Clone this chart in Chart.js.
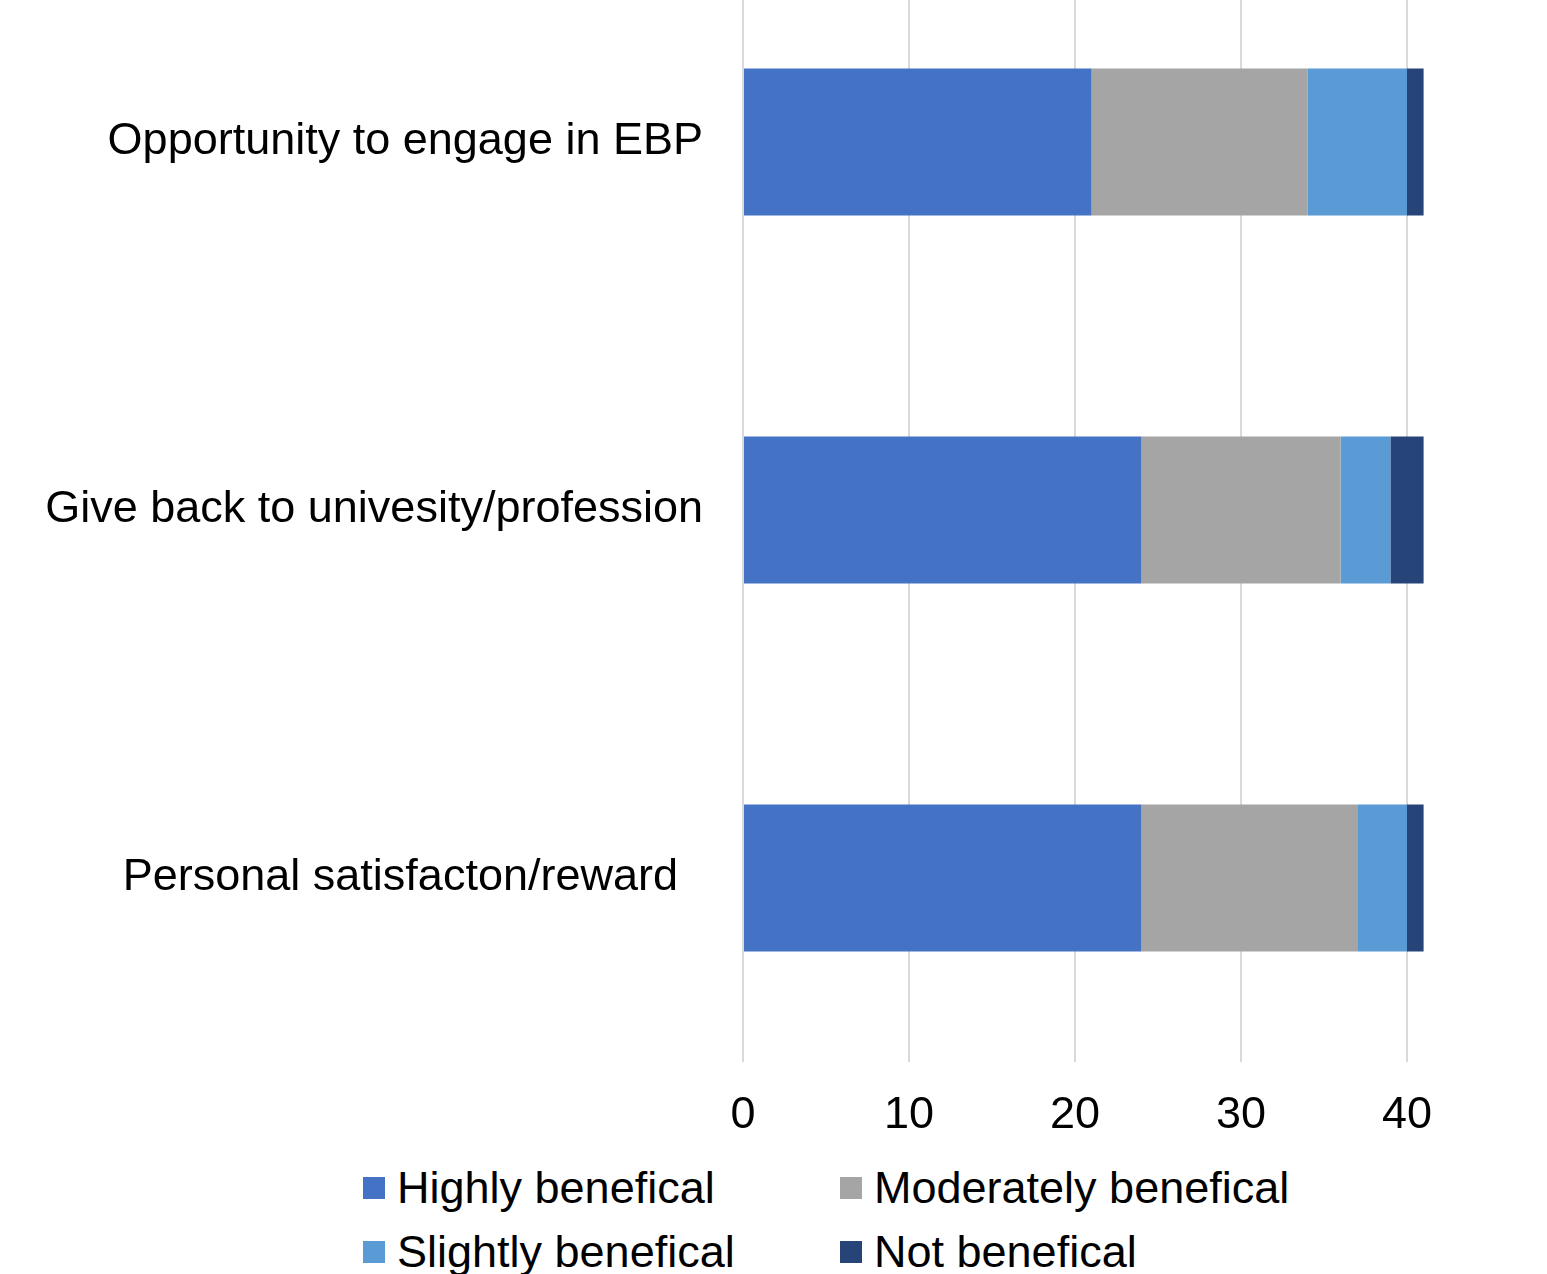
<!DOCTYPE html>
<html>
<head>
<meta charset="utf-8">
<script src="https://cdn.jsdelivr.net/npm/chart.js@4"></script>
<style>
  html, body {
    margin: 0;
    padding: 0;
    width: 1547px;
    height: 1274px;
    overflow: hidden;
    background: #ffffff;
    font-family: "Liberation Sans", Arial, sans-serif;
  }
  .chart-box {
    position: absolute;
    left: 0;
    top: -42px;
    width: 1603px;
    height: 1190px;
  }
  .legend-grid {
    position: absolute;
    left: 363px;
    top: 1156px;
    display: grid;
    grid-template-columns: 477px auto;
    grid-auto-rows: 64px;
  }
  .legend-item {
    display: flex;
    align-items: center;
    font-size: 45px;
    color: #000000;
    white-space: nowrap;
  }
  .legend-item div:first-child {
    width: 22px;
    height: 22px;
    margin-right: 12px;
  }
</style>
</head>
<body>
<div class="chart-box"><canvas id="bar-chart"></canvas></div>
<div class="legend-grid"></div>
<script>
const categories = [
  "Opportunity to engage in EBP",
  "Give back to univesity/profession",
  "Personal satisfacton/reward",
];

const highlyBeneficial = [21, 24, 24];
const moderatelyBeneficial = [13, 12, 13];
const slightlyBeneficial = [6, 3, 3];
const notBeneficial = [1, 2, 1];

const seriesNames = [
  "Highly benefical",
  "Moderately benefical",
  "Slightly benefical",
  "Not benefical",
];
const seriesColors = ["#4472c4", "#a5a5a5", "#5b9bd5", "#264478"];

const xTicks = [0, 10, 20, 30, 40, 50];

const seriesValues = [
  highlyBeneficial,
  moderatelyBeneficial,
  slightlyBeneficial,
  notBeneficial,
];

// CHART

const ctx = document.getElementById("bar-chart");
const fontFamily = '"Liberation Sans", Arial, sans-serif';

const barChart = new Chart(ctx, {
  type: "bar",
  data: {
    labels: categories,
    datasets: seriesNames.map((name, i) => ({
      label: name,
      data: seriesValues[i],
      backgroundColor: seriesColors[i],
      borderWidth: 0,
      barPercentage: 0.4,
      categoryPercentage: 1,
    })),
  },
  options: {
    indexAxis: "y",
    responsive: true,
    maintainAspectRatio: false,
    animation: false,
    layout: {
      padding: { left: 0, right: 30, top: 0, bottom: 0 },
    },
    scales: {
      x: {
        stacked: true,
        min: 0,
        max: xTicks[xTicks.length - 1],
        afterBuildTicks: (scale) => {
          scale.ticks = xTicks.map((v) => ({ value: v }));
        },
        afterFit: (scale) => {
          scale.height = 86;
        },
        grid: {
          color: "#d9d9d9",
          lineWidth: 2,
          drawTicks: false,
        },
        border: { display: false },
        ticks: {
          padding: 27,
          color: "#000000",
          font: { family: fontFamily, size: 45 },
          // the 50 tick sits off the edge of the picture
          callback: (value) => (value === 50 ? "" : value),
        },
      },
      y: {
        stacked: true,
        afterFit: (scale) => {
          scale.width = 743;
          // tick padding would otherwise push the plot area down
          scale.paddingTop = 0;
          scale.paddingBottom = 0;
        },
        grid: { display: false, drawTicks: false },
        border: { display: false },
        ticks: {
          padding: 40,
          color: "#000000",
          font: { family: fontFamily, size: 45 },
          // last label sits a bit further left in the original
          callback: (value, index) =>
            index === 2 ? categories[index] + "  " : categories[index],
        },
      },
    },
    plugins: {
      legend: { display: false },
      tooltip: { enabled: false },
    },
  },
});

// LEGEND

const legendGrid = document.querySelector(".legend-grid");

function printLegend() {
  legendGrid.innerHTML = "";
  barChart.data.datasets.forEach((dataset) => {
    const legendItem = document.createElement("div");
    legendItem.classList.add("legend-item");

    const colorBox = document.createElement("div");
    colorBox.style.backgroundColor = dataset.backgroundColor;
    legendItem.appendChild(colorBox);

    const legendText = document.createElement("div");
    legendText.textContent = dataset.label;
    legendItem.appendChild(legendText);

    legendGrid.appendChild(legendItem);
  });
}

printLegend();
</script>
</body>
</html>
